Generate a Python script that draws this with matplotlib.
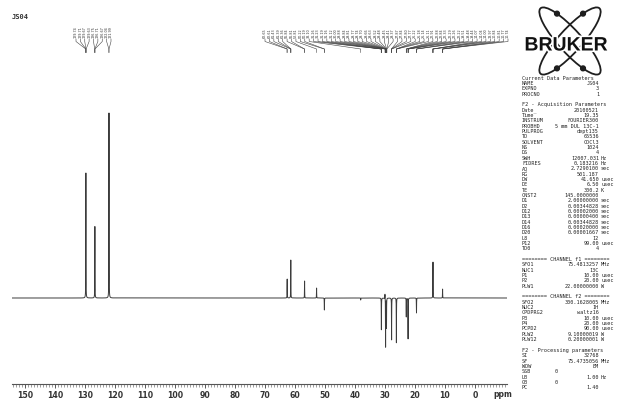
import numpy as np
import matplotlib
matplotlib.use("Agg")
import matplotlib.pyplot as plt
from matplotlib.patches import Ellipse, Circle
import matplotlib.patheffects as pe

W, H = 617, 409

title = "JS04"

# peak positions (ppm) and intensities (arbitrary units, DEPT-135 phase)
peak_ppm = [129.7, 126.7, 122.0, 62.6, 61.4, 56.8, 52.8, 50.2, 38.1,
            31.2, 30.0, 29.8, 29.5, 27.8, 26.2, 22.9, 22.3, 19.5, 14.0, 10.8]
peak_int = [125, 72, 185, 19, 38, 17, 10, -12, -2,
            -32, 5, -49, -30, -42, -45, -19, -41, -15, 36, 9]

left_labels = ["129.74", "129.71", "129.67", "129.63", "126.75", "126.71",
               "126.67", "122.04", "121.99"]
right_labels = ["62.65", "62.61", "61.43", "61.39", "61.36", "56.84", "56.81",
                "52.81", "50.22", "50.19", "38.10", "31.26", "31.23", "31.19",
                "31.16", "31.12", "30.00", "29.88", "29.84", "29.81", "29.77",
                "29.74", "29.70", "29.66", "29.63", "29.52", "29.48", "29.45",
                "29.41", "29.37", "27.87", "27.84", "27.80", "27.77", "26.22",
                "26.18", "26.14", "26.11", "22.91", "22.88", "22.84", "22.33",
                "22.29", "22.26", "22.22", "19.51", "19.48", "19.44", "14.07",
                "14.04", "14.00", "13.97", "10.84", "10.81", "10.77", "10.74"]

tick_ppm = [150, 140, 130, 120, 110, 100, 90, 80, 70, 60, 50, 40, 30, 20, 10, 0]
tick_labels = ["150", "140", "130", "120", "110", "100", "90", "80", "70",
               "60", "50", "40", "30", "20", "10", "0"]

param_names = ["Current Data Parameters", "NAME", "EXPNO", "PROCNO", "",
               "F2 - Acquisition Parameters", "Date_", "Time", "INSTRUM", "PROBHD",
               "PULPROG", "TD", "SOLVENT", "NS", "DS", "SWH", "FIDRES", "AQ", "RG",
               "DW", "DE", "TE", "CNST2", "D1", "D2", "D12", "D13", "D14", "D16",
               "D20", "L8", "P12", "TD0", "",
               "======== CHANNEL f1 ========", "SFO1", "NUC1", "P1", "P2", "PLW1", "",
               "======== CHANNEL f2 ========", "SFO2", "NUC2", "CPDPRG2", "P3", "P4",
               "PCPD2", "PLW2", "PLW12", "",
               "F2 - Processing parameters", "SI", "SF", "WDW", "SSB", "LB", "GB", "PC"]
param_values = ["", "JS04", "3", "1", "",
                "", "20100521", "19.35", "FOURIER300", "5 mm DUL 13C-1",
                "dept135", "65536", "CDCl3", "1024", "4", "12007.031", "0.183216",
                "2.7290100", "501.187", "41.650", "6.50", "300.2", "145.0000000",
                "2.00000000", "0.00344828", "0.00002000", "0.00000400", "0.00344828",
                "0.00020000", "0.00001667", "12", "99.00", "4", "",
                "", "75.4813257", "13C", "10.00", "20.00", "22.00000000", "",
                "", "300.1628005", "1H", "waltz16", "10.00", "20.00",
                "90.00", "9.10000019", "0.20000001", "",
                "", "32768", "75.4735056", "EM", "0", "1.00", "0", "1.40"]
param_units = ["", "", "", "", "",
               "", "", "", "", "",
               "", "", "", "", "", "Hz", "Hz", "sec", "", "usec", "usec", "K", "",
               "sec", "sec", "sec", "sec", "sec", "sec", "sec", "", "usec", "", "",
               "", "MHz", "", "usec", "usec", "W", "",
               "", "MHz", "", "", "usec", "usec", "usec", "W", "W", "",
               "", "", "MHz", "", "", "Hz", "", ""]

fig = plt.figure(figsize=(W / 100, H / 100), dpi=100)

# ---------------- main spectrum axes ----------------
ax_l, ax_r, ax_t, ax_b = 12, 507, 20, 384
ax = fig.add_axes([ax_l / W, (H - ax_b) / H, (ax_r - ax_l) / W, (ax_b - ax_t) / H])
x_left, x_right = 154.33, -10.67
ax.set_xlim(x_left, x_right)
ax.set_ylim(-(ax_b - 298), 298 - ax_t)

ppm = np.linspace(x_right, x_left, 30000)
hw = 0.03
spec = np.zeros_like(ppm)
for p, a in zip(peak_ppm, peak_int):
    spec += a * hw ** 2 / ((ppm - p) ** 2 + hw ** 2)
ax.plot(ppm, spec, color="#3c3c3c", lw=0.7)

for s in ["left", "right", "top"]:
    ax.spines[s].set_visible(False)
ax.spines["bottom"].set_color("#555555")
ax.spines["bottom"].set_linewidth(0.8)
ax.set_yticks([])
ax.set_xticks(tick_ppm)
ax.set_xticklabels(tick_labels, fontsize=5.6, fontweight="bold", color="#333333")
ax.set_xticks(np.arange(-10, 155, 1), minor=True)
ax.tick_params(axis="x", which="major", length=3.2, width=0.7, color="#555555", pad=2.2)
ax.tick_params(axis="x", which="minor", length=1.8, width=0.5, color="#777777")
ax.text(-9.4, -0.03, "ppm", transform=ax.get_xaxis_transform(), ha="center",
        va="center", fontsize=5.5, fontweight="bold", color="#333333")

# ---------------- peak labels with leader lines ----------------
inv = ax.transData.inverted()


def px_to_ppm(px):
    return inv.transform((px, 0))[0]


def place_group(labels, px_start, px_end):
    xs = np.linspace(px_start, px_end, len(labels))
    for xp, lab in zip(xs, labels):
        xl = px_to_ppm(xp)
        xt = float(lab)
        ax.text(xl, 259.5, lab, rotation=90, ha="center", va="bottom",
                fontsize=2.4, color="#333333", clip_on=False)
        ax.plot([xl, xl, xt, xt], [259, 256.5, 249, 245.5], color="#444444",
                lw=0.4, clip_on=False)


place_group(left_labels, 76, 111)
place_group(right_labels, 265, 508)

# ---------------- overlay for logo and parameters ----------------
ov = fig.add_axes([0, 0, 1, 1])
ov.set_xlim(0, W)
ov.set_ylim(H, 0)
ov.axis("off")
ov.patch.set_alpha(0)

ov.text(12, 17, title, fontsize=5, fontweight="bold", family="DejaVu Sans Mono",
        color="#333333", va="center", ha="left")

# Bruker logo
cx, cy = 570, 41
a_, b_ = 44, 11.5
for ang, sgn in ((48, 1), (-48, -1)):
    ov.add_patch(Ellipse((cx, cy), 2 * a_, 2 * b_, angle=ang, fill=False,
                         lw=1.3, color="#1e1e1e"))
    th = np.deg2rad(ang)
    for t in (sgn * 0.85, np.pi + sgn * 0.85):
        dx = a_ * np.cos(t) * np.cos(th) - b_ * np.sin(t) * np.sin(th)
        dy = a_ * np.cos(t) * np.sin(th) + b_ * np.sin(t) * np.cos(th)
        ov.add_patch(Circle((cx + dx, cy + dy), 2.4, color="#1e1e1e"))
ov.text(566, 46, "BRUKER", ha="center", va="center", fontsize=14,
        fontweight="bold", family="Liberation Sans", color="#111111",
        path_effects=[pe.withStroke(linewidth=2.5, foreground="white")])

# parameter block
y0, dy = 78, 5.34
for i, (n, v, u) in enumerate(zip(param_names, param_values, param_units)):
    y = y0 + i * dy
    kw = dict(fontsize=3.7, family="DejaVu Sans Mono", color="#222222", va="center")
    if n:
        ov.text(522, y, n, ha="left", **kw)
    if v:
        vx = 558 if (n in ("SSB", "GB")) else 599
        ov.text(vx, y, v, ha="right", **kw)
    if u:
        ov.text(601, y, u, ha="left", **kw)

fig.savefig("out.png", dpi=100)
